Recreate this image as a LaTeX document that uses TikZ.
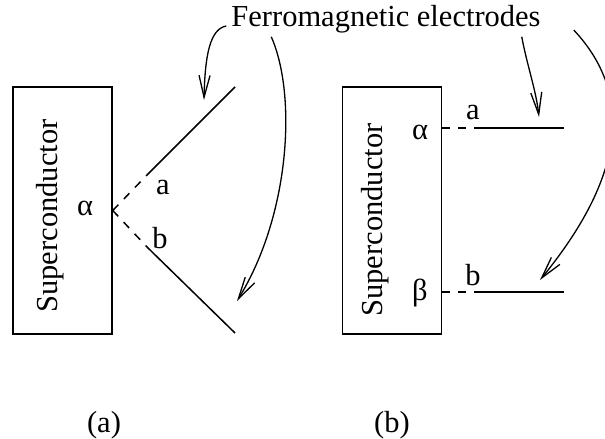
\documentclass[tikz,border=0pt]{standalone}
\usepackage{fontspec}
\setmainfont{Liberation Serif}
\usetikzlibrary{arrows.meta}

\newcommand{\figfont}{\fontsize{30.5}{36}\selectfont}

\begin{document}
\begin{tikzpicture}[x=1pt, y=-1pt,
  %% Superconductor blocks
  scbox/.style={draw, line width=1.5pt, minimum width=99pt,
                minimum height=247pt, inner sep=0pt},
  %% Rotated text inside the blocks
  sctext/.style={rotate=90, font=\figfont, inner sep=0pt},
  %% Greek letters, a/b, captions
  lbl/.style={font=\figfont, inner sep=0pt},
  %% Solid electrode
  elec/.style={line width=1.5pt},
  %% Dashed tunnel lead (block -> electrode)
  lead/.style={line width=1.5pt, dash pattern=on 8pt off 8pt},
  %% Curved pointer (title -> electrode)
  pointer/.style={-{Straight Barb[length=22pt,width=11pt]}, line width=1.3pt}
]
\clip (0,0) rectangle (605,439);

%% ── Title ────────────────────────────────────────────────────────────────
\node[lbl, anchor=base] (title) at (386,26) {Ferromagnetic electrodes};

%% ── (a): electrodes meeting at one point ────────────────────────────────
\node[scbox] (scA) at (62.5,210.5) {};
\node[sctext] (scAtxt) at (50,216) {Superconductor};
\node[lbl] (alphaA) at (85,208) {α};

\coordinate (eAu1) at (147,175);
\coordinate (eAu2) at (235,87);
\coordinate (eAl1) at (147,247);
\coordinate (eAl2) at (235,333);

\draw[lead] (scA.east) -- (eAu1);
\draw[elec] (eAu1) -- (eAu2);
\draw[lead] (scA.east) -- (eAl1);
\draw[elec] (eAl1) -- (eAl2);

\node[lbl] (labAa) at (163,187) {a};
\node[lbl] (labAb) at (160,238) {b};

\node[lbl, anchor=base] (capA) at (104,432) {(a)};

%% ── (b): electrodes at two separate points ──────────────────────────────
\node[scbox] (scB) at (392,210.5) {};
\node[sctext] (scBtxt) at (375,220) {Superconductor};
\node[lbl] (alphaB) at (420,132) {α};
\node[lbl] (betaB)  at (420,293) {β};

\coordinate (eBa1) at (474,128);
\coordinate (eBa2) at (564,128);
\coordinate (eBb1) at (474,292);
\coordinate (eBb2) at (564,292);

\draw[lead] (scB.east |- eBa1) -- (eBa1);
\draw[elec] (eBa1) -- (eBa2);
\draw[lead] (scB.east |- eBb1) -- (eBb1);
\draw[elec] (eBb1) -- (eBb2);

\node[lbl] (labBa) at (473,112) {a};
\node[lbl] (labBb) at (473,275) {b};

\node[lbl, anchor=base] (capB) at (392,432) {(b)};

%% ── Pointers from the title ─────────────────────────────────────────────
\coordinate (tipA1) at (204,100);
\coordinate (tipA2) at (237,301);
\coordinate (tipB1) at (539,117);
\coordinate (tipB2) at (540,280);

\draw[pointer] ([xshift=-5pt]title.base west)
  .. controls (210,29) and (205,55) .. (tipA1);
\draw[pointer] ([xshift=40pt,yshift=-4pt]title.south west)
  .. controls (297,95) and (290,215) .. (tipA2);
\draw[pointer] ([xshift=-19pt,yshift=-4pt]title.south east)
  .. controls (527,65) and (536,90) .. (tipB1);
\draw[pointer] ([xshift=33pt,yshift=-4pt]title.base east)
  .. controls (630,90) and (630,170) .. (tipB2);

\end{tikzpicture}
\end{document}
